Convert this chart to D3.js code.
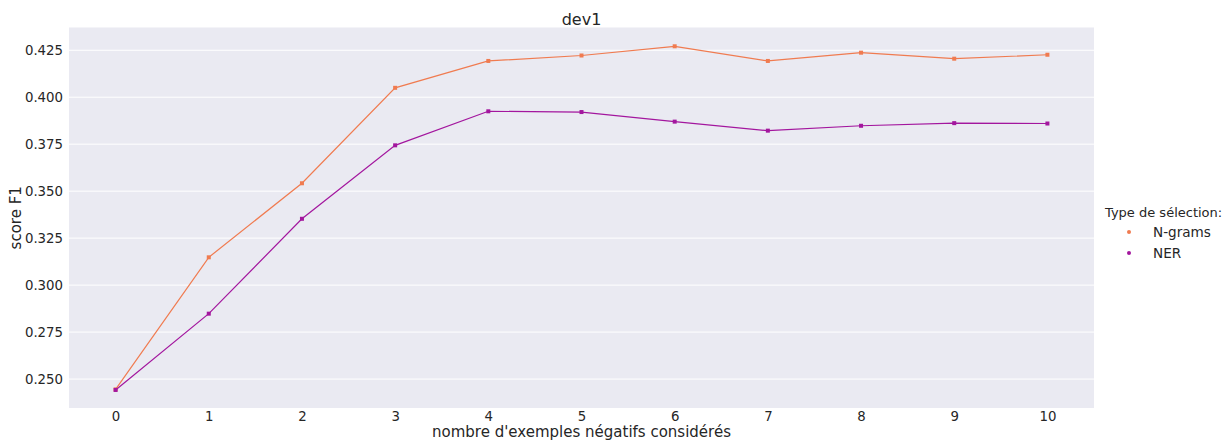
<!DOCTYPE html>
<html><head><meta charset="utf-8">
<script src="https://cdn.jsdelivr.net/npm/d3@7"></script>
<style>body{margin:0;background:#fff;} text{font-family:"DejaVu Sans",sans-serif;}</style>
</head><body>
<svg id="c" width="1225" height="441"></svg>
<script>
const xValues = [0,1,2,3,4,5,6,7,8,9,10];
const ngrams = [0.2445,0.3148,0.3542,0.4050,0.4193,0.4222,0.4271,0.4193,0.4237,0.4205,0.4226];
const ner = [0.2442,0.2848,0.3353,0.3744,0.3925,0.3921,0.3870,0.3822,0.3848,0.3862,0.3860];
const yTicks = [0.250,0.275,0.300,0.325,0.350,0.375,0.400,0.425];
const seriesNames = ["N-grams","NER"];
const seriesColors = ["#f07b50","#a3169e"];
const title = "dev1";
const xLabel = "nombre d'exemples négatifs considérés";
const yLabel = "score F1";
const legendTitle = "Type de sélection:";

const svg = d3.select("#c");
const L=69, R=1094, T=27.5, B=408;
const x = d3.scaleLinear().domain([-0.5,10.5]).range([L,R]);
const y = d3.scaleLinear().domain([0.2346,0.4371]).range([B,T]);

svg.append("rect").attr("x",L).attr("y",T).attr("width",R-L).attr("height",B-T).attr("fill","#eaeaf2");
svg.append("g").selectAll("line").data(yTicks).join("line")
  .attr("x1",L).attr("x2",R).attr("y1",d=>y(d)).attr("y2",d=>y(d))
  .attr("stroke","#ffffff").attr("stroke-width",1);

const xAxis = svg.append("g").attr("transform",`translate(0,${B})`)
  .call(d3.axisBottom(x).tickValues(xValues).tickFormat(d3.format("d")).tickSize(0).tickPadding(4));
xAxis.select(".domain").remove();
xAxis.selectAll("text").attr("font-size","13.3px").attr("fill","#262626");

const yAxis = svg.append("g").attr("transform",`translate(${L},0)`)
  .call(d3.axisLeft(y).tickValues(yTicks).tickFormat(d3.format(".3f")).tickSize(0).tickPadding(6));
yAxis.select(".domain").remove();
yAxis.selectAll("text").attr("font-size","13.3px").attr("fill","#262626");

const data = [ngrams, ner];
const line = d3.line().x((d,i)=>x(xValues[i])).y(d=>y(d));
data.forEach((s,k)=>{
  svg.append("path").datum(s).attr("d",line).attr("fill","none")
    .attr("stroke",seriesColors[k]).attr("stroke-width",1.2);
  svg.append("g").selectAll("rect").data(s).join("rect")
    .attr("x",(d,i)=>x(xValues[i])-2).attr("y",d=>y(d)-2)
    .attr("width",4).attr("height",4).attr("fill",seriesColors[k]);
});

svg.append("text").attr("x",(L+R)/2).attr("y",25).attr("text-anchor","middle")
  .attr("font-size","16px").attr("fill","#262626").text(title);
svg.append("text").attr("x",(L+R)/2).attr("y",437).attr("text-anchor","middle")
  .attr("font-size","15px").attr("fill","#262626").text(xLabel);
svg.append("text").attr("transform",`translate(21,${(T+B)/2}) rotate(-90)`).attr("text-anchor","middle")
  .attr("font-size","15px").attr("fill","#262626").text(yLabel);

const lg = svg.append("g");
lg.append("text").attr("x",1105).attr("y",217).attr("font-size","13px").attr("fill","#262626").text(legendTitle);
seriesNames.forEach((n,k)=>{
  const yy = 232 + k*21;
  lg.append("circle").attr("cx",1129).attr("cy",yy).attr("r",2).attr("fill",seriesColors[k]);
  lg.append("text").attr("x",1153).attr("y",yy+5).attr("font-size","13.6px").attr("fill","#262626").text(n);
});
</script>
</body></html>
